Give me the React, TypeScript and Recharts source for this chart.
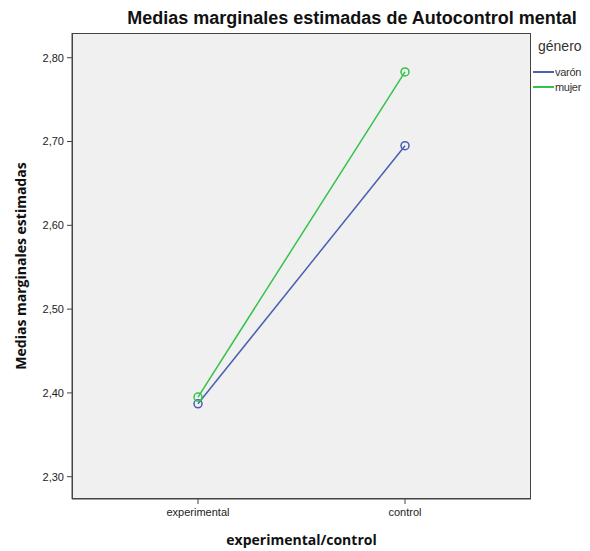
import React from "react";
import { LineChart, Line, XAxis, YAxis, CartesianGrid } from "recharts";

const grupos = ["experimental", "control"];
const varon = [2.387, 2.695];
const mujer = [2.395, 2.783];
const yTicks = [2.3, 2.4, 2.5, 2.6, 2.7, 2.8];

const data = grupos.map((g, i) => ({ grupo: g, varon: varon[i], mujer: mujer[i] }));

const FONT = "Arial, 'Liberation Sans', sans-serif";
const BOLD = "'Open Sans', 'DejaVu Sans', sans-serif";
const AXIS = "#444";

const fmt = (v: number) => v.toFixed(2).replace(".", ",");

const series = [
	{ key: "varon", name: "varón", color: "#4a5fb0" },
	{ key: "mujer", name: "mujer", color: "#35c24a" },
];

// plot box inside the chart
const PLOT = { left: 64, top: 25, width: 459, height: 466 };

export default function App() {
	return (
		<div style={{ position: "relative", width: 582, height: 543 }}>
			<div
				style={{
					position: "absolute",
					left: 0,
					top: 0,
					width: 688,
					textAlign: "center",
					fontFamily: FONT,
					fontWeight: "bold",
					fontSize: 18,
					lineHeight: 1.15,
					color: "#111",
				}}
			>
				Medias marginales estimadas de Autocontrol mental
			</div>
			<LineChart
				width={582}
				height={543}
				data={data}
				margin={{ top: 25, right: 59, bottom: 0, left: 0 }}
			>
				<CartesianGrid fill="#f0f0f0" stroke="none" />
				<XAxis
					dataKey="grupo"
					scale="point"
					height={52}
					padding={{ left: 126, right: 126 }}
					tickSize={5}
					tickMargin={4}
					stroke={AXIS}
					tick={{ fontSize: 11, fill: "#222", fontFamily: FONT }}
					label={{
						value: "experimental/control",
						position: "insideBottom",
						offset: 6,
						style: { fontSize: 14, fontWeight: "bold", fill: "#111", fontFamily: BOLD },
					}}
				/>
				<YAxis
					type="number"
					domain={[2.2734, 2.8295]}
					ticks={yTicks}
					allowDataOverflow
					width={64}
					tickSize={5}
					tickMargin={3}
					tickFormatter={fmt}
					stroke={AXIS}
					tick={{ fontSize: 11, fill: "#222", fontFamily: FONT }}
					label={{
						value: "Medias marginales estimadas",
						angle: -90,
						position: "insideLeft",
						offset: 13,
						style: { textAnchor: "middle", fontSize: 14, fontWeight: "bold", fill: "#111", fontFamily: BOLD },
					}}
				/>
				{series.map((s) => (
					<Line
						key={s.key}
						dataKey={s.key}
						name={s.name}
						stroke={s.color}
						strokeWidth={1.5}
						dot={{ r: 4, fill: "none", stroke: s.color, strokeWidth: 1.5 }}
						isAnimationActive={false}
					/>
				))}
			</LineChart>
			<div
				style={{
					position: "absolute",
					left: PLOT.left,
					top: PLOT.top,
					width: PLOT.width,
					height: PLOT.height,
					border: `1px solid ${AXIS}`,
					boxSizing: "border-box",
					pointerEvents: "none",
				}}
			/>
			<div
				style={{
					position: "absolute",
					left: 525,
					top: 30,
					width: 58,
					fontFamily: FONT,
					color: "#333",
				}}
			>
				<div style={{ fontSize: 14, marginBottom: 10, marginLeft: 5 }}>género</div>
				{series.map((s) => (
					<div
						key={s.key}
						style={{ display: "flex", alignItems: "center", fontSize: 11, letterSpacing: -0.3, height: 15, whiteSpace: "nowrap" }}
					>
						<span style={{ display: "inline-block", flex: "none", width: 21, height: 2, background: s.color, marginRight: 1 }} />
						<span>{s.name}</span>
					</div>
				))}
			</div>
		</div>
	);
}
